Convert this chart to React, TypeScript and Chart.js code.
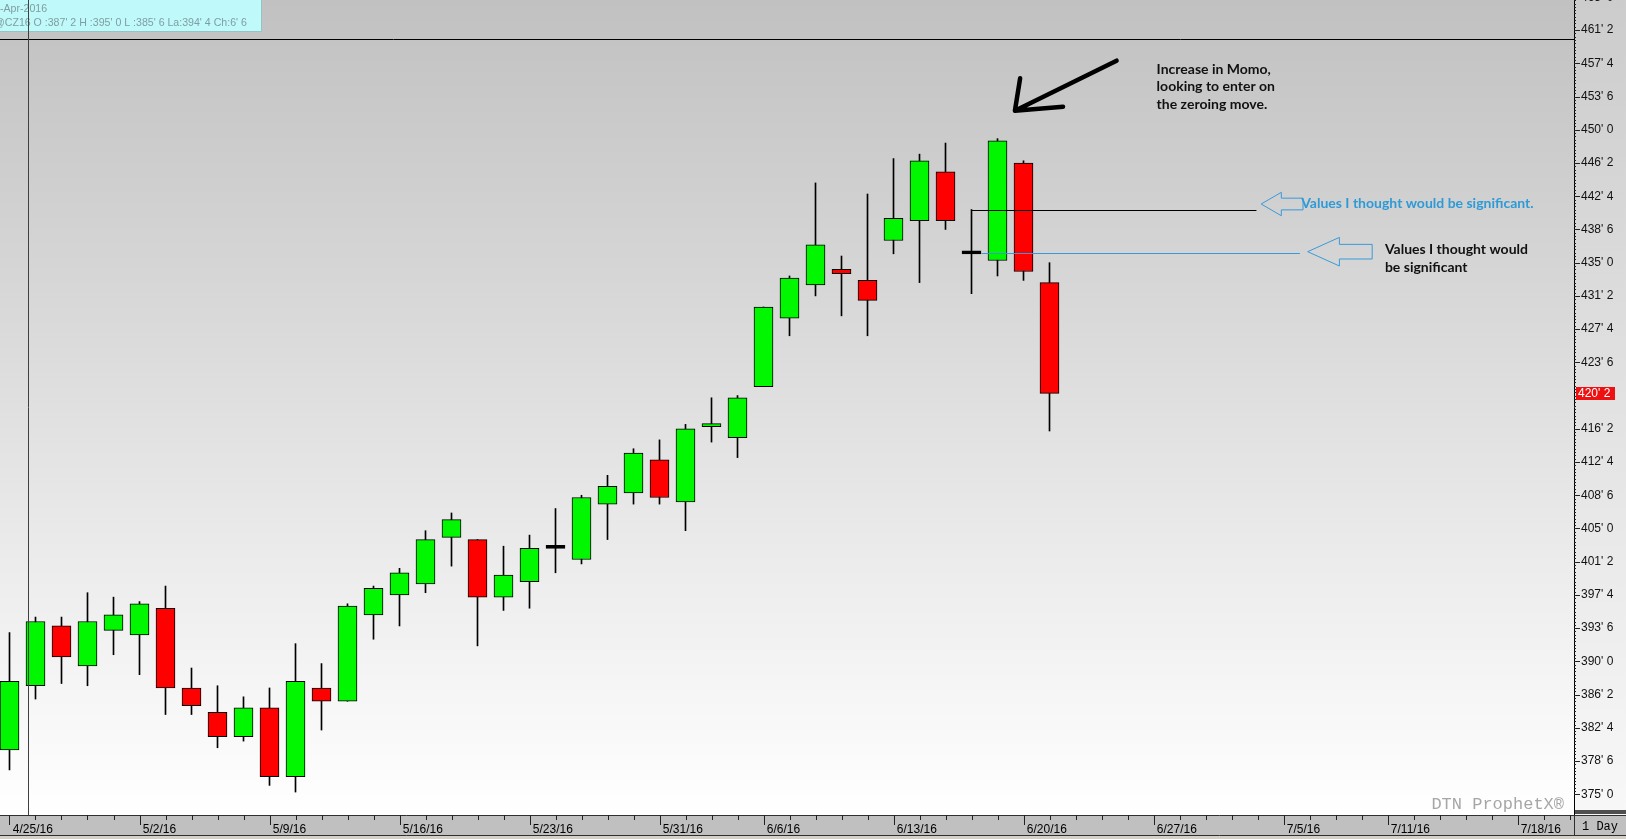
import React, { useEffect, useRef } from 'react';
import { Chart, registerables } from 'chart.js';

Chart.register(...registerables);

// ---- data (corn futures @CZ16, daily) ----
const dates = [
  '4/25/16', '4/26/16', '4/27/16', '4/28/16', '4/29/16',
  '5/2/16', '5/3/16', '5/4/16', '5/5/16', '5/6/16',
  '5/9/16', '5/10/16', '5/11/16', '5/12/16', '5/13/16',
  '5/16/16', '5/17/16', '5/18/16', '5/19/16', '5/20/16',
  '5/23/16', '5/24/16', '5/25/16', '5/26/16', '5/27/16',
  '5/31/16', '6/1/16', '6/2/16', '6/3/16',
  '6/6/16', '6/7/16', '6/8/16', '6/9/16', '6/10/16',
  '6/13/16', '6/14/16', '6/15/16', '6/16/16', '6/17/16',
  '6/20/16', '6/21/16',
];
const open = [
  380.0, 387.25, 394.0, 389.5, 393.5,
  393.0, 396.0, 387.0, 384.25, 381.5,
  384.75, 377.0, 387.0, 385.5, 395.25,
  397.5, 398.75, 404.0, 403.75, 397.25,
  399.0, 402.75, 401.5, 407.75, 409.0,
  412.75, 408.0, 416.5, 415.25,
  421.0, 428.75, 432.5, 434.25, 433.0,
  437.5, 439.75, 445.25, 436.0, 435.25,
  446.25, 432.75,
];
const high = [
  393.25, 395.0, 395.0, 397.75, 397.25,
  396.75, 398.5, 389.25, 387.25, 386.0,
  387.0, 392.0, 389.75, 396.5, 398.5,
  400.5, 404.75, 406.75, 403.75, 403.0,
  404.25, 407.25, 408.75, 411.0, 414.0,
  415.0, 416.75, 419.75, 420.0,
  430.0, 433.5, 444.0, 435.75, 442.75,
  446.75, 447.25, 448.5, 441.0, 449.0,
  446.5, 435.0,
];
const low = [
  377.75, 385.75, 387.5, 387.25, 390.75,
  388.5, 384.0, 384.0, 380.25, 381.0,
  376.0, 375.25, 382.25, 385.5, 392.5,
  394.0, 397.75, 400.75, 391.75, 395.75,
  396.0, 400.0, 401.0, 403.75, 407.75,
  407.75, 404.75, 414.75, 413.0,
  421.0, 426.75, 431.25, 429.0, 426.75,
  436.0, 432.75, 438.75, 431.5, 433.5,
  433.0, 416.0,
];
const close = [
  387.75, 394.5, 390.5, 394.5, 395.25,
  396.5, 387.0, 385.0, 381.5, 384.75,
  377.0, 387.75, 385.5, 396.25, 398.25,
  400.0, 403.75, 406.0, 397.25, 399.75,
  402.75, 402.75, 408.5, 409.75, 413.5,
  408.5, 416.25, 416.75, 419.75,
  430.0, 433.25, 437.0, 433.75, 430.75,
  440.0, 446.5, 439.75, 436.0, 448.75,
  434.0, 420.25,
];

const yTickValues = [
  375, 378.75, 382.5, 386.25, 390, 393.75, 397.5, 401.25, 405, 408.75, 412.5, 416.25,
  420, 423.75, 427.5, 431.25, 435, 438.75, 442.5, 446.25, 450, 453.75, 457.5, 461.25,
];
const yTickAbove = 465; // partially visible label above the plot
const xTickIdx = [0, 5, 10, 15, 20, 25, 29, 34, 39, 44, 49, 53, 58];
const xTickLabels = [
  '4/25/16', '5/2/16', '5/9/16', '5/16/16', '5/23/16', '5/31/16', '6/6/16',
  '6/13/16', '6/20/16', '6/27/16', '7/5/16', '7/11/16', '7/18/16',
];
const axisDaySlots = 61;
const lastPrice = close[close.length - 1];

// annotation anchors (in data units: day index, price)
const levelHigh = 441.0;
const levelLow = 436.125;
const infoLines = ['26-Apr-2016', "@CZ16 O :387' 2 H :395' 0 L :385' 6 La:394' 4 Ch:6' 6"];
const note1 = ['Increase in Momo,', 'looking to enter on', 'the zeroing move.'];
const note2 = 'Values I thought would be significant.';
const note3 = ['Values I thought would', 'be significant'];

const Y_MAX = 464.647;
const Y_MIN = 372.661;
const X_MIN = -0.36538;
const X_MAX = 60.173;

function fmtPrice(v: number): string {
  const w = Math.floor(v + 1e-9);
  const e = Math.round((v - w) * 8);
  return `${w}' ${e}`;
}

const SANS = '"Liberation Sans", Arial, sans-serif';
const NOTE_FONT = 'bold 14px Lato, "Open Sans", sans-serif';

const bgPlugin = {
  id: 'bgPlugin',
  beforeDraw(chart: any) {
    const { ctx, chartArea: ca, width, height } = chart;
    ctx.save();
    let g = ctx.createLinearGradient(0, 0, 0, ca.bottom);
    g.addColorStop(0, '#c1c1c1');
    g.addColorStop(1, '#ffffff');
    ctx.fillStyle = g;
    ctx.fillRect(0, 0, ca.right, ca.bottom);
    g = ctx.createLinearGradient(0, 0, 0, ca.bottom);
    g.addColorStop(0, '#cccccc');
    g.addColorStop(1, '#f8f8f8');
    ctx.fillStyle = g;
    ctx.fillRect(ca.right, 0, width - ca.right, ca.bottom);
    // bottom date strip
    ctx.fillStyle = '#c0c0c0';
    ctx.fillRect(0, ca.bottom, width, 21);
    ctx.fillStyle = '#d4d0c8';
    ctx.fillRect(0, ca.bottom + 21, width, height - ca.bottom - 21);
    // top border line
    ctx.strokeStyle = '#000';
    ctx.lineWidth = 1;
    ctx.beginPath();
    ctx.moveTo(0, 39.5);
    ctx.lineTo(ca.right, 39.5);
    ctx.stroke();
    // watermark
    ctx.font = '17px "Liberation Mono", monospace';
    ctx.fillStyle = '#a6a6a6';
    ctx.textAlign = 'right';
    ctx.textBaseline = 'alphabetic';
    ctx.fillText('DTN ProphetX\u00AE', ca.right - 10, ca.bottom - 6);
    ctx.restore();
  },
};

function hollowArrow(ctx: any, tx: number, ty: number, headLen: number, headHalf: number, shaftLen: number, shaftHalf: number) {
  ctx.beginPath();
  ctx.moveTo(tx, ty);
  ctx.lineTo(tx + headLen, ty - headHalf);
  ctx.lineTo(tx + headLen, ty - shaftHalf);
  ctx.lineTo(tx + headLen + shaftLen, ty - shaftHalf);
  ctx.lineTo(tx + headLen + shaftLen, ty + shaftHalf);
  ctx.lineTo(tx + headLen, ty + shaftHalf);
  ctx.lineTo(tx + headLen, ty + headHalf);
  ctx.closePath();
  ctx.stroke();
}

const annotPlugin = {
  id: 'annotPlugin',
  afterDatasetsDraw(chart: any) {
    const { ctx } = chart;
    const xs = chart.scales.x;
    const ys = chart.scales.y;
    const X = (i: number) => xs.getPixelForValue(i);
    const Y = (p: number) => ys.getPixelForValue(p);
    ctx.save();
    // significant levels
    ctx.lineWidth = 1;
    ctx.strokeStyle = '#000';
    let yy = Math.round(Y(levelHigh)) + 0.5;
    ctx.beginPath();
    ctx.moveTo(X(37), yy);
    ctx.lineTo(X(47.96), yy);
    ctx.stroke();
    ctx.strokeStyle = '#3a9ad9';
    yy = Math.round(Y(levelLow)) + 0.5;
    ctx.beginPath();
    ctx.moveTo(X(37.39), yy);
    ctx.lineTo(X(49.63), yy);
    ctx.stroke();
    // hollow arrows
    hollowArrow(ctx, X(48.14), Y(441.62), 20.2, 11.7, 21.7, 5.85);
    hollowArrow(ctx, X(49.93), Y(436.24), 31.7, 14.3, 32.8, 7.3);
    // hand drawn black arrow
    ctx.strokeStyle = '#000';
    ctx.lineWidth = 4.5;
    ctx.lineCap = 'round';
    ctx.lineJoin = 'round';
    ctx.beginPath();
    ctx.moveTo(X(42.58), Y(457.8));
    ctx.lineTo(X(38.67), Y(452.15));
    ctx.moveTo(X(38.87), Y(455.81));
    ctx.lineTo(X(38.67), Y(452.15));
    ctx.lineTo(X(40.52), Y(452.6));
    ctx.stroke();
    // notes
    ctx.font = NOTE_FONT;
    ctx.textAlign = 'left';
    ctx.textBaseline = 'middle';
    ctx.fillStyle = '#111';
    note1.forEach((t, k) => ctx.fillText(t, X(44.12), Y(456.86) + k * 17.5));
    ctx.fillStyle = '#2e9ad6';
    ctx.fillText(note2, X(49.68), Y(441.7));
    ctx.fillStyle = '#111';
    note3.forEach((t, k) => ctx.fillText(t, X(52.9), Y(436.51) + k * 18));
    ctx.restore();
  },
  afterDraw(chart: any) {
    const { ctx, chartArea: ca, width } = chart;
    const xs = chart.scales.x;
    const ys = chart.scales.y;
    ctx.save();
    ctx.lineWidth = 1;
    ctx.strokeStyle = '#000';
    // price axis line
    ctx.beginPath();
    ctx.moveTo(ca.right + 0.5, 0);
    ctx.lineTo(ca.right + 0.5, ca.bottom);
    ctx.stroke();
    // partially visible label above the top
    ctx.fillStyle = '#111';
    ctx.font = `12px ${SANS}`;
    ctx.textAlign = 'left';
    ctx.textBaseline = 'middle';
    ctx.fillText(fmtPrice(yTickAbove), ca.right + 7, ys.getPixelForValue(yTickAbove) + 1);
    // y ticks
    ctx.strokeStyle = '#222';
    ctx.beginPath();
    for (const v of yTickValues) {
      const p = Math.round(ys.getPixelForValue(v)) + 0.5;
      ctx.moveTo(ca.right, p);
      ctx.lineTo(ca.right + 6, p);
    }
    for (let v = 375; v <= 465; v += 0.375) {
      const p = Math.round(ys.getPixelForValue(v)) + 0.5;
      if (p < 0 || p > ca.bottom - 6) continue;
      ctx.moveTo(ca.right, p);
      ctx.lineTo(ca.right + 2, p);
    }
    ctx.stroke();
    // dark bar at the bottom of the price column
    ctx.fillStyle = '#505050';
    ctx.fillRect(ca.right + 1, ca.bottom - 5, width - ca.right, 4);
    // strip borders
    ctx.strokeStyle = '#303030';
    ctx.beginPath();
    ctx.moveTo(0, ca.bottom + 0.5);
    ctx.lineTo(width, ca.bottom + 0.5);
    ctx.moveTo(0, ca.bottom + 20.5);
    ctx.lineTo(width, ca.bottom + 20.5);
    ctx.moveTo(ca.right + 0.5, ca.bottom);
    ctx.lineTo(ca.right + 0.5, ca.bottom + 21);
    ctx.stroke();
    // x ticks
    ctx.strokeStyle = '#222';
    ctx.beginPath();
    for (let i = 0; i < axisDaySlots; i++) {
      const p = Math.round(xs.getPixelForValue(i)) + 0.5;
      const major = xTickIdx.indexOf(i) >= 0;
      ctx.moveTo(p, ca.bottom);
      ctx.lineTo(p, ca.bottom + (major ? 10 : 5));
    }
    ctx.stroke();
    ctx.fillStyle = '#000';
    ctx.font = '12px "Liberation Mono", monospace';
    ctx.textAlign = 'left';
    ctx.textBaseline = 'middle';
    ctx.fillText('1 Day', ca.right + 8, ca.bottom + 12);
    // last price marker
    const lp = ys.getPixelForValue(lastPrice);
    ctx.fillStyle = '#ee1111';
    ctx.fillRect(ca.right + 2, Math.round(lp) - 6, 39, 13);
    ctx.fillStyle = '#fff';
    ctx.font = `12px ${SANS}`;
    ctx.fillText(fmtPrice(lastPrice), ca.right + 4, Math.round(lp) + 0.5);
    // info box
    ctx.fillStyle = '#bff9f9';
    ctx.fillRect(0, 0, 262, 31);
    ctx.strokeStyle = '#94c4c4';
    ctx.beginPath();
    ctx.moveTo(261.5, 0);
    ctx.lineTo(261.5, 31.5);
    ctx.lineTo(0, 31.5);
    ctx.stroke();
    ctx.fillStyle = '#7f9ea3';
    ctx.font = `10.6px ${SANS}`;
    const w26 = ctx.measureText('26').width;
    ctx.fillText(infoLines[0], -w26, 9.5);
    ctx.fillText(infoLines[1], -6, 23.5);
    // crosshair
    ctx.strokeStyle = '#404040';
    const cx = Math.round(xs.getPixelForValue(0.72)) + 0.5;
    ctx.beginPath();
    ctx.moveTo(cx, 0);
    ctx.lineTo(cx, ca.bottom);
    ctx.stroke();
    ctx.restore();
  },
};

export default function App() {
  const ref = useRef<HTMLCanvasElement | null>(null);
  useEffect(() => {
    document.body.style.margin = '0';
    const canvas = ref.current;
    if (!canvas) return;
    const bodyColors = open.map((o, i) => (close[i] > o ? '#00f700' : close[i] < o ? '#ff0000' : '#000000'));
    const bodies = open.map((o, i) => ({ x: i, y: [o, close[i]] }));
    const wicks = open.map((_, i) => ({ x: i, y: [low[i], high[i]] }));
    const chart = new Chart(canvas, {
      type: 'bar',
      data: {
        labels: dates,
        datasets: [
          {
            label: 'body',
            data: bodies as any,
            backgroundColor: bodyColors,
            borderColor: '#000',
            borderWidth: 1,
            borderSkipped: false,
            barThickness: 19,
            minBarLength: 3,
            grouped: false,
          } as any,
          {
            label: 'wick',
            data: wicks as any,
            backgroundColor: '#000',
            borderWidth: 0,
            barThickness: 1,
            grouped: false,
          } as any,
        ],
      },
      options: {
        animation: false,
        responsive: false,
        devicePixelRatio: 1,
        events: [],
        layout: { padding: 0 },
        plugins: { legend: { display: false }, tooltip: { enabled: false }, title: { display: false } },
        scales: {
          x: {
            type: 'linear',
            min: X_MIN,
            max: X_MAX,
            offset: false,
            grid: { display: false, drawTicks: false },
            border: { display: false },
            afterBuildTicks: (s: any) => {
              s.ticks = xTickIdx.map((v) => ({ value: v }));
            },
            afterFit: (s: any) => {
              s.height = 24;
              s.paddingLeft = 0;
              s.paddingRight = 0;
            },
            ticks: {
              autoSkip: false,
              maxRotation: 0,
              minRotation: 0,
              align: 'start',
              padding: 7,
              color: '#000',
              font: { family: SANS, size: 12 },
              callback: (_v: any, idx: number) => ' ' + xTickLabels[idx],
            },
          } as any,
          y: {
            type: 'linear',
            position: 'right',
            min: Y_MIN,
            max: Y_MAX,
            beginAtZero: false,
            grid: { display: false, drawTicks: false },
            border: { display: false },
            afterBuildTicks: (s: any) => {
              s.ticks = yTickValues.map((v) => ({ value: v }));
            },
            afterFit: (s: any) => {
              s.width = 52;
              s.paddingTop = 0;
              s.paddingBottom = 0;
            },
            ticks: {
              autoSkip: false,
              padding: 7,
              color: '#111',
              font: { family: SANS, size: 12 },
              callback: (v: any) => fmtPrice(Number(v)),
            },
          } as any,
        },
      },
      plugins: [bgPlugin, annotPlugin],
    } as any);
    return () => chart.destroy();
  }, []);
  return (
    <div style={{ position: 'absolute', left: 0, top: 0, width: 1626, height: 839 }}>
      <canvas ref={ref} width={1626} height={839} style={{ display: 'block' }} />
    </div>
  );
}
